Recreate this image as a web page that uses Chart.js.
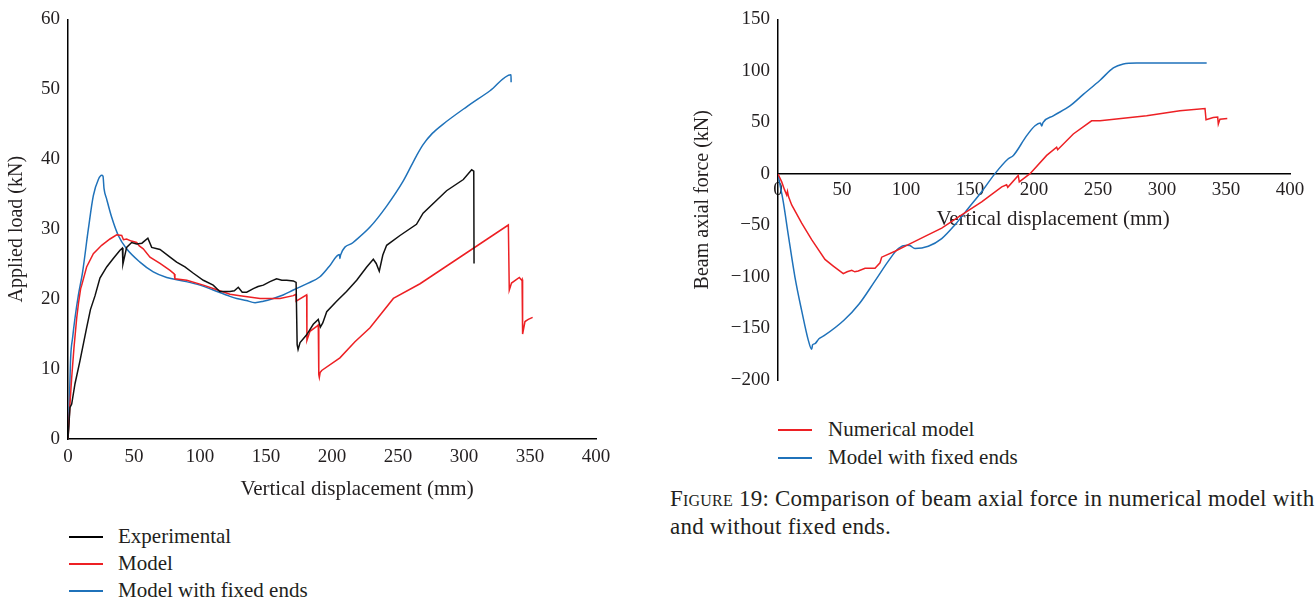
<!DOCTYPE html>
<html>
<head>
<meta charset="utf-8">
<script src="https://cdn.jsdelivr.net/npm/chart.js@4"></script>
<style>
  html, body { margin: 0; padding: 0; background: #fff; }
  body { width: 1316px; height: 601px; position: relative; overflow: hidden; font-family: 'Liberation Serif', serif; color: #231f20; }
  #c1 { position: absolute; left: 0; top: 0; }
  #c2 { position: absolute; left: 640px; top: 0; }
  .leg { position: absolute; font-size: 21px; line-height: 20px; white-space: nowrap; }
  .leg .sw { position: absolute; height: 1.5px; width: 34px; }
  .cap { position: absolute; left: 670px; font-size: 23px; letter-spacing: 0.22px; white-space: nowrap; line-height: 28px; }
  .sc { font-variant: small-caps; }
</style>
</head>
<body>
<canvas id="c1" width="640" height="510"></canvas>
<canvas id="c2" width="676" height="400"></canvas>

<div class="leg" style="left:69px;top:526px;"><span class="sw" style="background:#000;left:0;top:10px;"></span><span style="position:absolute;left:49px;top:0;">Experimental</span></div>
<div class="leg" style="left:69px;top:553px;"><span class="sw" style="background:rgb(237,32,36);left:0;top:10px;"></span><span style="position:absolute;left:49px;top:0;">Model</span></div>
<div class="leg" style="left:69px;top:580px;"><span class="sw" style="background:rgb(31,114,186);left:0;top:10px;"></span><span style="position:absolute;left:49px;top:0;">Model with fixed ends</span></div>

<div class="leg" style="left:778px;top:419px;"><span class="sw" style="background:rgb(237,32,36);left:0;top:10px;"></span><span style="position:absolute;left:50px;top:0;">Numerical model</span></div>
<div class="leg" style="left:778px;top:447px;"><span class="sw" style="background:rgb(31,114,186);left:0;top:10px;"></span><span style="position:absolute;left:50px;top:0;">Model with fixed ends</span></div>

<div class="cap" style="top:485px;"><span class="sc">Figure</span> 19: Comparison of beam axial force in numerical model with</div>
<div class="cap" style="top:513px;">and without fixed ends.</div>

<script>
// ---------- Left chart: applied load vs vertical displacement ----------
const expDisp = [0, 1.5, 2.8, 5.3, 9.1, 14.1, 17, 20.5, 24.2, 29.3, 34.3, 39.4, 41.2, 41.6, 44.4, 48.2, 52, 56, 60.5, 63.4, 69.7, 77.3, 82.3, 88.6, 95, 102.5, 110, 115, 122.7, 126, 129, 132, 135.4, 140.4, 144, 148, 153, 158, 162, 165.7, 170.7, 172.8, 173.6, 174.3, 175.8, 180.8, 185.8, 189.6, 191.2, 193, 196, 203.5, 211, 218.7, 226.3, 231.3, 233.5, 235.8, 238.5, 241.4, 251.5, 264, 269, 286.8, 299.5, 305.8, 307.4, 307.6];
const expLoad = [0, 4.5, 5.0, 7.9, 11.2, 15.9, 18.5, 20.5, 23.0, 24.6, 25.8, 27.0, 27.3, 25.0, 27.4, 28.1, 27.9, 28.0, 28.7, 27.4, 27.1, 26.0, 25.3, 24.6, 23.7, 22.7, 22.0, 21.1, 21.1, 21.2, 21.7, 21.0, 21.0, 21.5, 21.8, 22.0, 22.5, 22.9, 22.7, 22.7, 22.6, 22.4, 13.5, 12.8, 13.8, 14.9, 16.4, 17.1, 16.0, 16.6, 18.2, 19.7, 21.1, 22.7, 24.6, 25.7, 25.1, 24.0, 26.3, 27.7, 29.1, 30.7, 32.3, 35.5, 37.1, 38.5, 38.3, 25.1];

const modelDisp = [0, 1.5, 2.8, 4.5, 6.6, 8, 9.6, 10.4, 14.1, 19.2, 25.5, 31.8, 36.9, 40.7, 42, 44.4, 48, 52, 54, 57, 62.1, 69.7, 77.3, 80.5, 81, 90, 102.5, 115, 122.7, 130.3, 145.5, 160.6, 170.7, 172.7, 172.8, 180.8, 181, 183.3, 188.4, 189.6, 190, 190.4, 191, 192.2, 206, 217.4, 228.8, 246.5, 266.7, 333.6, 334.3, 336, 341.9, 343.7, 344, 344.4, 346.2, 348.7, 352];
const modelLoad = [0, 5, 8.8, 13, 17.3, 19.5, 21.5, 22.0, 24.6, 26.5, 27.7, 28.6, 29.2, 29.1, 28.5, 28.6, 28.3, 28.1, 27.6, 27.2, 26.0, 25.1, 24.1, 23.6, 22.9, 22.7, 22.0, 21.2, 20.7, 20.5, 20.1, 20.1, 20.5, 20.7, 19.7, 20.6, 14.1, 15.4, 16.1, 16.3, 9.2, 8.8, 9.5, 9.8, 11.6, 13.9, 15.9, 20.1, 22.2, 30.6, 21.3, 22.3, 23.1, 22.7, 22.8, 15.0, 16.8, 17.1, 17.4];

const fixedDisp = [0, 1, 2, 3.5, 5.3, 7.8, 11, 15.4, 19.2, 23, 25.5, 26.5, 27.3, 29.3, 33.1, 38.1, 44.4, 54.5, 64.6, 74.8, 87.3, 100, 110, 122.7, 127.8, 135, 141.7, 148, 155.5, 163, 170.7, 182, 190.9, 198, 205.6, 206, 206.5, 216, 228.8, 241.4, 254, 264, 269, 276, 284, 302, 319.7, 335.6, 335.7];
const fixedLoad = [0, 5, 11.6, 14.5, 17.3, 20.5, 23.8, 30.0, 34.8, 37.1, 37.7, 37.6, 35.8, 34.3, 31.7, 29.1, 27.2, 25.3, 23.9, 23.1, 22.6, 22.0, 21.3, 20.4, 20.1, 19.8, 19.5, 19.7, 20.1, 20.6, 21.3, 22.3, 23.2, 24.7, 26.4, 25.8, 26.3, 28.1, 30.3, 33.3, 36.9, 40.5, 42.1, 43.7, 45.0, 47.5, 49.8, 52.1, 51.0];

const loadTicks = [0, 10, 20, 30, 40, 50, 60];
const dispTicks = [0, 50, 100, 150, 200, 250, 300, 350, 400];

// ---------- Right chart: beam axial force vs vertical displacement ----------
const numDisp = [0, 2.9, 5, 6.8, 7.4, 8.2, 10.7, 18.5, 26.3, 36.7, 43.2, 51, 54, 57.6, 60, 62.7, 68, 75.8, 79.7, 81, 91.4, 101.8, 114.8, 127.9, 143.5, 159.1, 174.8, 178.6, 179.5, 187.7, 188.5, 196.9, 209.9, 217.7, 218.5, 230.7, 245, 251.6, 288, 314, 333.6, 334.4, 340, 343.5, 344, 345.3, 351];
const numAxial = [0, -7.7, -15, -20.5, -17, -22, -30.1, -47.8, -63.8, -83, -89.4, -96.8, -95, -93.6, -95, -94.2, -91.6, -91.6, -86.2, -80.8, -75, -68.6, -60.6, -52.6, -39.7, -27, -12.5, -10.5, -13, -1.5, -7.7, 0.3, 18, 26, 23.5, 38.8, 51.6, 51.6, 56.4, 61.3, 63.5, 52.6, 54.8, 55.2, 48.4, 53.2, 53.8];

const fixDisp2 = [0, 1.5, 4.1, 8, 13.3, 18.5, 23.7, 26.3, 27, 28.9, 32, 36, 51.5, 63.5, 75.8, 86.2, 94, 100.5, 103, 107, 117.4, 127.9, 138.3, 148.7, 159.1, 169.5, 179.9, 183.9, 194.3, 200.8, 205, 206, 207, 215, 228.1, 238.5, 251.6, 262, 269.8, 280.2, 334.9];
const fixAxial2 = [0, -10, -26.9, -58.9, -100.6, -132.7, -161.5, -170.2, -166, -164.7, -160, -157, -142, -126, -103.8, -84.6, -72.4, -69.2, -69.5, -72.4, -70.2, -62.8, -49.3, -33.3, -17.3, 0.3, 14.7, 18, 37.2, 46.8, 49.5, 46.5, 49.8, 56.4, 66, 77.2, 91, 102.9, 106.7, 107.7, 107.7];

const axialTicks = [-200, -150, -100, -50, 0, 50, 100, 150];
const dispTicks2 = [0, 50, 100, 150, 200, 250, 300, 350, 400];

const RED = 'rgb(237,32,36)';
const BLUE = 'rgb(31,114,186)';
const BLACK = '#111';
const TXT = '#231f20';
const FAM = "'Liberation Serif', 'Times New Roman', serif";

function pts(xs, ys) { return xs.map((x, i) => ({ x: x, y: ys[i] })); }
function fmt(v) { return v < 0 ? '\u2212' + Math.abs(v) : String(v); }
function ds(label, xs, ys, color, smooth) {
  const d = { label: label, data: pts(xs, ys), borderColor: color, backgroundColor: color,
           borderWidth: 1.5, pointRadius: 0, tension: 0, fill: false };
  if (smooth) { d.cubicInterpolationMode = 'monotone'; }
  return d;
}
function setTicks(arr) { return (scale) => { scale.ticks = arr.map(v => ({ value: v })); }; }

const tickFont = { family: FAM, size: 19 };
const yTitleFont = { family: FAM, size: 20 };
const xTitleFont = { family: FAM, size: 21 };
const border = { display: true, color: '#000', width: 1.5 };

// shifts the x-axis title horizontally to sit where the reference places it
const titleShift = {
  id: 'titleShift',
  beforeDraw(chart, args, opts) {
    const sc = chart.scales.x;
    if (!sc || sc._shiftPatched) return;
    const orig = sc.drawTitle.bind(sc);
    sc.drawTitle = function () {
      chart.ctx.save();
      chart.ctx.translate(opts.dx || 0, 0);
      orig();
      chart.ctx.restore();
    };
    sc._shiftPatched = true;
  }
};

new Chart(document.getElementById('c1'), {
  type: 'line',
  data: { datasets: [
    ds('Experimental', expDisp, expLoad, BLACK, false),
    ds('Model', modelDisp, modelLoad, RED, false),
    ds('Model with fixed ends', fixedDisp, fixedLoad, BLUE, true)
  ] },
  plugins: [titleShift],
  options: {
    responsive: false, animation: false, devicePixelRatio: 1,
    layout: { padding: { left: 5, right: 44, top: 15, bottom: 8 } },
    plugins: { legend: { display: false }, tooltip: { enabled: false }, titleShift: { dx: 25 } },
    scales: {
      x: { type: 'linear', min: 0, max: 400,
           grid: { display: false, drawTicks: false }, border: border,
           afterBuildTicks: setTicks(dispTicks),
           afterFit: (s) => { s.height = 63; },
           ticks: { font: tickFont, color: TXT, padding: 7, maxRotation: 0, callback: fmt },
           title: { display: true, text: 'Vertical displacement (mm)', font: xTitleFont, color: TXT, padding: 0 } },
      y: { type: 'linear', min: 0, max: 60,
           grid: { display: false, drawTicks: false }, border: border,
           afterBuildTicks: setTicks(loadTicks),
           afterFit: (s) => { s.width = 63; },
           ticks: { font: tickFont, color: TXT, padding: 8, callback: fmt },
           title: { display: true, text: 'Applied load (kN)', font: yTitleFont, color: TXT, padding: 0 } }
    }
  }
});

new Chart(document.getElementById('c2'), {
  type: 'line',
  data: { datasets: [
    ds('Numerical model', numDisp, numAxial, RED, false),
    ds('Model with fixed ends', fixDisp2, fixAxial2, BLUE, true)
  ] },
  plugins: [titleShift],
  options: {
    responsive: false, animation: false, devicePixelRatio: 1,
    layout: { padding: { left: 51, right: 26, top: 16, bottom: 20 } },
    plugins: { legend: { display: false }, tooltip: { enabled: false }, titleShift: { dx: 19 } },
    scales: {
      x: { type: 'linear', min: 0, max: 400, position: { y: 0 },
           grid: { display: false, drawTicks: false }, border: border,
           afterBuildTicks: setTicks(dispTicks2),
           afterFit: (s) => { s.height = 58; },
           ticks: { font: tickFont, color: TXT, padding: 5, maxRotation: 0, callback: fmt },
           title: { display: true, text: 'Vertical displacement (mm)', font: xTitleFont, color: TXT, padding: 0 } },
      y: { type: 'linear', min: -200, max: 150,
           grid: { display: false, drawTicks: false }, border: border,
           afterBuildTicks: setTicks(axialTicks),
           afterFit: (s) => { s.width = 87; },
           ticks: { font: tickFont, color: TXT, padding: 8, callback: fmt },
           title: { display: true, text: 'Beam axial force (kN)', font: yTitleFont, color: TXT, padding: 0 } }
    }
  }
});
</script>
</body>
</html>
